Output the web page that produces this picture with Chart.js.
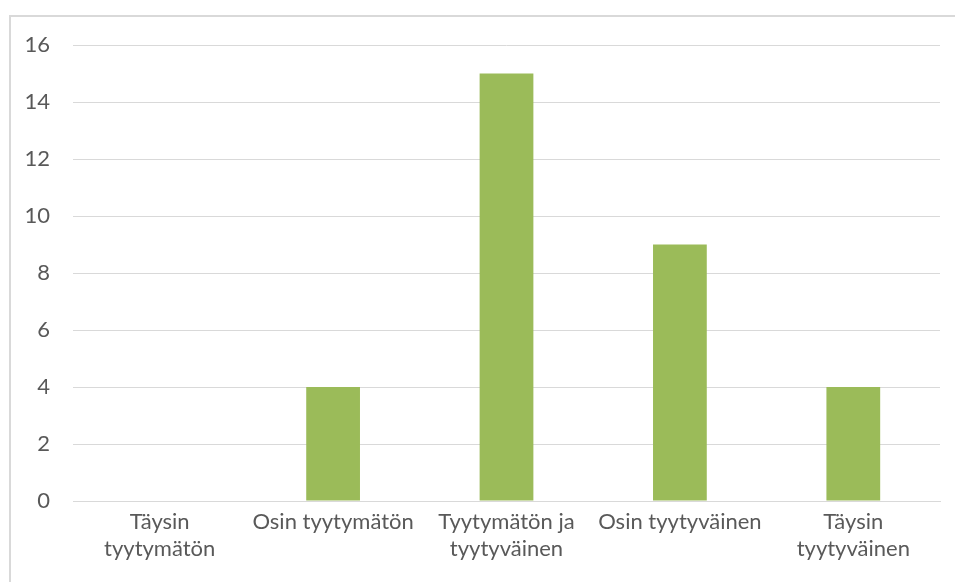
<!DOCTYPE html>
<html>
<head>
<meta charset="utf-8">
<script src="https://cdn.jsdelivr.net/npm/chart.js@4.4.1/dist/chart.umd.min.js"></script>
<style>
  html, body { margin: 0; padding: 0; background: #fff; overflow: hidden; }
  #wrap { position: relative; width: 955px; height: 582px; }
  #frame {
    position: absolute; left: 9px; top: 15px; width: 1000px; height: 600px;
    border-left: 2px solid #d9d9d9; border-top: 2px solid #d9d9d9;
    pointer-events: none;
  }
  canvas { position: absolute; left: 0; top: 0; }
</style>
</head>
<body>
<div id="wrap">
  <canvas id="satisfactionChart" width="955" height="582"></canvas>
  <div id="frame"></div>
</div>
<script>
// chart data
const categories = [
  ["Täysin", "tyytymätön"],
  "Osin tyytymätön",
  ["Tyytymätön ja", "tyytyväinen"],
  "Osin tyytyväinen",
  ["Täysin", "tyytyväinen"],
];
const responses = [0, 4, 15, 9, 4];
const yTicks = [0, 2, 4, 6, 8, 10, 12, 14, 16];

const labelFont = { family: "Lato, 'Open Sans', sans-serif", size: 22, lineHeight: 1.2 };
const textColor = "#595959";
const gridColor = "#d9d9d9";

const ctx = document.getElementById("satisfactionChart").getContext("2d");

new Chart(ctx, {
  type: "bar",
  data: {
    labels: categories,
    datasets: [
      {
        data: responses,
        backgroundColor: "#9bbb59",
        borderWidth: 0,
        barPercentage: 1,
        categoryPercentage: 0.31,
      },
    ],
  },
  options: {
    responsive: false,
    animation: false,
    layout: { padding: { top: 45, right: 15, left: 0, bottom: 0 } },
    scales: {
      y: {
        min: 0,
        max: 16,
        afterBuildTicks: (scale) => {
          scale.ticks = yTicks.map((v) => ({ value: v }));
        },
        afterFit: (scale) => { scale.width = 73; },
        border: { display: false },
        grid: { color: gridColor, lineWidth: 1, drawTicks: false },
        ticks: { color: textColor, font: labelFont, padding: 23 },
      },
      x: {
        afterFit: (scale) => { scale.height = 81; },
        border: { display: true, color: gridColor },
        grid: { display: false, drawTicks: false },
        ticks: { color: textColor, font: labelFont, padding: 8, maxRotation: 0, autoSkip: false },
      },
    },
    plugins: {
      legend: { display: false },
      tooltip: { enabled: false },
    },
  },
});
</script>
</body>
</html>
